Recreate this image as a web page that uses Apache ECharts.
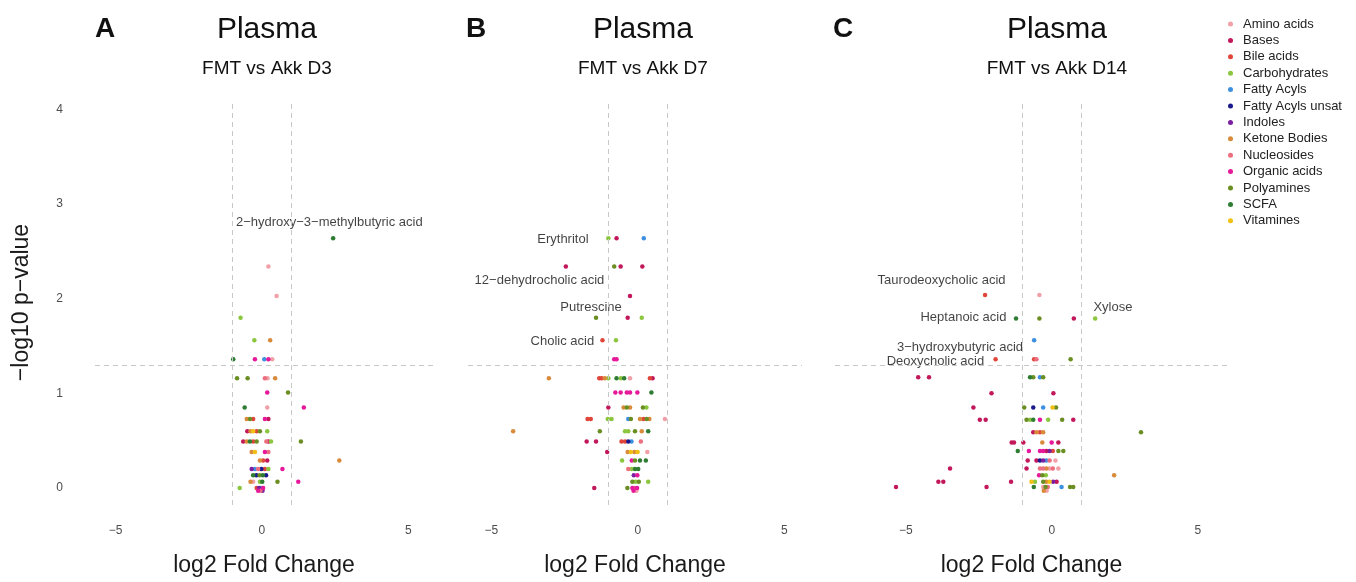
<!DOCTYPE html>
<html>
<head>
<meta charset="utf-8">
<title>Plasma volcano plots</title>
<script src="https://cdn.jsdelivr.net/npm/echarts@6/dist/echarts.min.js"></script>
<style>
  html, body { margin: 0; padding: 0; background: #fff; }
  #chart { width: 1356px; height: 582px; }
</style>
</head>
<body>
<div id="chart"></div>
<script>
// metabolite classes + colours (legend order)
const classes = [
  "Amino acids", "Bases", "Bile acids", "Carbohydrates", "Fatty Acyls",
  "Fatty Acyls unsat", "Indoles", "Ketone Bodies", "Nucleosides",
  "Organic acids", "Polyamines", "SCFA", "Vitamines",
];
const classColors = [
  "#f2a0a8", "#c2185b", "#e0453a", "#8cc63f", "#3d8fe0",
  "#1a1a8c", "#7b1fa2", "#d98a3a", "#ec6f7f",
  "#e6199b", "#6b8e23", "#2e7d32", "#f2c014",
];
const xTicks = [-5, 0, 5];
const yTicks = [0, 1, 2, 3, 4];
const fcCut = 1;        // |log2FC| = 1
const pCut = 1.301;     // -log10(0.05)

// D3: log2FC, -log10 p, class index
const d3FC = [
  2.43, 0.22, 0.50, -0.73, -0.26, 0.28,
  -0.98, -0.24, 0.08, 0.22, 0.35,
  -0.85, -0.49, 0.10, 0.19, 0.45,
  0.18, 0.89, -0.59, 0.18, 1.43,
  -0.52, -0.41, -0.30, 0.10, 0.22,
  -0.50, -0.39, -0.30, -0.18, -0.07, 0.18,
  -0.64, -0.52, -0.41, -0.30, -0.18, 0.15, 0.22, 0.31, 1.33,
  -0.35, -0.24, 0.10, 0.22,
  -0.07, 0.04, 0.18, 2.64,
  -0.35, -0.24, -0.13, -0.02, 0.10, 0.22, 0.70,
  -0.30, -0.19, -0.08, 0.03, 0.14,
  -0.39, -0.30, -0.07, 0.01, 0.53, 1.24,
  -0.76, -0.18, -0.10, -0.03, 0.04,
  -0.13, -0.05, 0.02,
];
const d3P = [
  2.64, 2.34, 2.03, 1.80, 1.56, 1.56,
  1.36, 1.36, 1.36, 1.36, 1.36,
  1.16, 1.16, 1.16, 1.16, 1.16,
  1.01, 1.01, 0.85, 0.85, 0.85,
  0.73, 0.73, 0.73, 0.73, 0.73,
  0.60, 0.60, 0.60, 0.60, 0.60, 0.60,
  0.49, 0.49, 0.49, 0.49, 0.49, 0.49, 0.49, 0.49, 0.49,
  0.38, 0.38, 0.38, 0.38,
  0.29, 0.29, 0.29, 0.29,
  0.20, 0.20, 0.20, 0.20, 0.20, 0.20, 0.20,
  0.135, 0.135, 0.135, 0.135, 0.135,
  0.066, 0.066, 0.066, 0.066, 0.066, 0.066,
  0.0, 0.0, 0.0, 0.0, 0.0,
  -0.03, -0.03, -0.03,
];
const d3Cls = [
  11, 0, 0, 3, 3, 7,
  11, 9, 4, 9, 0,
  10, 10, 8, 0, 7,
  9, 10, 11, 0, 9,
  7, 10, 2, 9, 1,
  1, 7, 12, 2, 10, 3,
  1, 7, 11, 2, 10, 8, 1, 3, 10,
  7, 12, 9, 8,
  7, 2, 1, 7,
  6, 4, 8, 5, 2, 3, 9,
  11, 5, 10, 11, 5,
  7, 0, 3, 11, 10, 9,
  3, 2, 6, 4, 9,
  9, 8, 6,
];
const d3Labels = ["2\u2212hydroxy\u22123\u2212methylbutyric acid"];
const d3LabelFC = [2.30];
const d3LabelP = [2.81];

// D7
const d7FC = [
  -1.01, -0.73, 0.20,
  -2.46, -0.81, -0.59, 0.15,
  -0.27,
  -1.43, -0.35, 0.13,
  -1.21, -0.75,
  -0.81, -0.73,
  -3.04, -1.32, -1.24, -1.13, -1.01, -0.73, -0.58, -0.47, -0.27, 0.41, 0.50,
  -0.77, -0.59, -0.38, -0.27, -0.02, 0.46,
  -1.01, -0.49, -0.38, -0.27, 0.17, 0.29,
  -1.72, -1.61, -1.03, -0.90, -0.33, -0.24, 0.07, 0.19, 0.30, 0.39, 0.92,
  -4.26, -1.30, -0.44, -0.33, -0.10, 0.13, 0.35,
  -1.75, -1.43, -0.56, -0.44, -0.33, -0.22, 0.10,
  -1.05, -0.35, -0.24, -0.12, -0.01, 0.32,
  -0.54, -0.21, -0.10, 0.07, 0.27,
  -0.33, -0.21, -0.10, 0.01,
  -0.14, -0.02,
  -0.19, -0.08, 0.03, 0.35,
  -1.49, -0.36, -0.19, -0.11, -0.03,
  -0.15, -0.05,
];
const d7P = [
  2.64, 2.64, 2.64,
  2.34, 2.34, 2.34, 2.34,
  2.03,
  1.80, 1.80, 1.80,
  1.56, 1.56,
  1.36, 1.36,
  1.16, 1.16, 1.16, 1.16, 1.16, 1.16, 1.16, 1.16, 1.16, 1.16, 1.16,
  1.01, 1.01, 1.01, 1.01, 1.01, 1.01,
  0.85, 0.85, 0.85, 0.85, 0.85, 0.85,
  0.73, 0.73, 0.73, 0.73, 0.73, 0.73, 0.73, 0.73, 0.73, 0.73, 0.73,
  0.60, 0.60, 0.60, 0.60, 0.60, 0.60, 0.60,
  0.49, 0.49, 0.49, 0.49, 0.49, 0.49, 0.49,
  0.38, 0.38, 0.38, 0.38, 0.38, 0.38,
  0.29, 0.29, 0.29, 0.29, 0.29,
  0.20, 0.20, 0.20, 0.20,
  0.135, 0.135,
  0.066, 0.066, 0.066, 0.066,
  0.0, 0.0, 0.0, 0.0, 0.0,
  -0.03, -0.03,
];
const d7Cls = [
  3, 1, 4,
  1, 10, 1, 1,
  1,
  10, 1, 3,
  2, 3,
  9, 9,
  7, 2, 2, 7, 3, 11, 3, 11, 0, 2, 1,
  9, 9, 9, 9, 9, 11,
  1, 7, 10, 7, 10, 3,
  2, 2, 3, 3, 4, 10, 7, 2, 10, 7, 0,
  7, 10, 3, 3, 10, 7, 11,
  1, 1, 2, 2, 5, 4, 8,
  1, 7, 12, 7, 12, 0,
  3, 9, 10, 11, 11,
  8, 3, 11, 11,
  6, 9,
  10, 3, 10, 3,
  1, 10, 9, 8, 9,
  9, 0,
];
const d7Labels = ["Erythritol", "12\u2212dehydrocholic acid", "Putrescine", "Cholic acid"];
const d7LabelFC = [-2.56, -3.36, -1.60, -2.58];
const d7LabelP = [2.625, 2.19, 1.91, 1.55];

// D14
const d14FC = [
  -2.29, -0.43,
  -1.23, -0.43, 0.75, 1.48,
  -0.61,
  -1.93, -0.61, -0.53, 0.64,
  -4.58, -4.21, -0.75, -0.64, -0.41, -0.30,
  -2.07, 0.05,
  -2.69, -0.95, -0.64, -0.30, 0.02, 0.14,
  -2.47, -2.27, -0.87, -0.75, -0.64, -0.41, -0.13, 0.35, 0.73,
  -0.64, -0.53, -0.41, -0.30, 3.05,
  -1.38, -1.30, -0.98, -0.33, -0.01, 0.22,
  -1.17, -0.79, -0.41, -0.30, -0.19, -0.08, 0.03, 0.22, 0.39,
  -0.83, -0.53, -0.41, -0.30, -0.19, -0.08, 0.12,
  -3.49, -0.87, -0.41, -0.30, -0.19, -0.08, 0.03, 0.22,
  -0.44, -0.33, -0.21, 2.13,
  -3.89, -3.72, -1.40, -0.70, -0.58, -0.30, -0.19, -0.08, 0.04, 0.16,
  -5.34, -2.24, -0.62, -0.30, -0.22, -0.14, 0.33, 0.62, 0.73,
  -0.28, -0.18,
];
const d14P = [
  2.04, 2.04,
  1.79, 1.79, 1.79, 1.79,
  1.56,
  1.36, 1.36, 1.36, 1.36,
  1.17, 1.17, 1.17, 1.17, 1.17, 1.17,
  1.00, 1.00,
  0.85, 0.85, 0.85, 0.85, 0.85, 0.85,
  0.72, 0.72, 0.72, 0.72, 0.72, 0.72, 0.72, 0.72, 0.72,
  0.59, 0.59, 0.59, 0.59, 0.59,
  0.48, 0.48, 0.48, 0.48, 0.48, 0.48,
  0.39, 0.39, 0.39, 0.39, 0.39, 0.39, 0.39, 0.39, 0.39,
  0.29, 0.29, 0.29, 0.29, 0.29, 0.29, 0.29,
  0.205, 0.205, 0.205, 0.205, 0.205, 0.205, 0.205, 0.205,
  0.135, 0.135, 0.135, 0.135,
  0.066, 0.066, 0.066, 0.066, 0.066, 0.066, 0.066, 0.066, 0.066, 0.066,
  0.01, 0.01, 0.01, 0.01, 0.01, 0.01, 0.01, 0.01, 0.01,
  -0.03, -0.03,
];
const d14Cls = [
  2, 0,
  11, 10, 1, 3,
  4,
  2, 2, 8, 10,
  1, 1, 11, 10, 4, 10,
  1, 1,
  1, 10, 5, 4, 12, 10,
  1, 1, 10, 3, 11, 9, 3, 10, 1,
  1, 7, 2, 7, 10,
  1, 1, 1, 7, 9, 1,
  11, 9, 9, 9, 1, 6, 2, 10, 10,
  1, 1, 5, 6, 4, 8, 0,
  1, 1, 8, 8, 7, 0, 8, 0,
  9, 10, 3, 7,
  1, 1, 1, 12, 3, 10, 7, 12, 6, 1,
  1, 1, 11, 0, 10, 8, 4, 10, 10,
  7, 0,
];
const d14Labels = ["Taurodeoxycholic acid", "Xylose", "Heptanoic acid", "3\u2212hydroxybutyric acid", "Deoxycholic acid"];
const d14LabelFC = [-3.78, 2.09, -3.03, -3.15, -3.99];
const d14LabelP = [2.19, 1.91, 1.80, 1.49, 1.34];

const panels = [
  { letter: "A", letterX: 90, sub: "FMT vs Akk D3", fc: d3FC, p: d3P, cls: d3Cls,
    labels: d3Labels, labelFC: d3LabelFC, labelP: d3LabelP,
    xMin: -5.7, xMax: 5.84, left: 95, width: 338 },
  { letter: "B", letterX: 461, sub: "FMT vs Akk D7", fc: d7FC, p: d7P, cls: d7Cls,
    labels: d7Labels, labelFC: d7LabelFC, labelP: d7LabelP,
    xMin: -5.8, xMax: 5.6, left: 468, width: 334 },
  { letter: "C", letterX: 828, sub: "FMT vs Akk D14", fc: d14FC, p: d14P, cls: d14Cls,
    labels: d14Labels, labelFC: d14LabelFC, labelP: d14LabelP,
    xMin: -7.43, xMax: 6.03, left: 835, width: 393 },
];

const font = "'Liberation Sans', Arial, sans-serif";
const minusFmt = (v) => (v < 0 ? "\u2212" + Math.abs(v) : String(v));

const grids = [], xAxes = [], yAxes = [], series = [], titles = [];

panels.forEach((pn, i) => {
  const zeroPx = pn.left + pn.width * (-pn.xMin) / (pn.xMax - pn.xMin);
  titles.push(
    { text: pn.letter, left: pn.letterX, top: 10,
      textStyle: { fontFamily: font, fontSize: 28, fontWeight: "bold", color: "#111" } },
    { text: "Plasma", left: zeroPx, top: 10, textAlign: "center",
      textStyle: { fontFamily: font, fontSize: 30, fontWeight: "normal", color: "#111" } },
    { text: pn.sub, left: zeroPx, top: 54, textAlign: "center",
      textStyle: { fontFamily: font, fontSize: 19, fontWeight: "normal", color: "#111" } }
  );
  grids.push({ left: pn.left, top: 100, width: pn.width, height: 409 });
  xAxes.push({
    gridIndex: i, type: "value", min: pn.xMin, max: pn.xMax,
    name: "log2 Fold Change", nameLocation: "middle", nameGap: 49,
    nameTextStyle: { fontFamily: font, fontSize: 23, color: "#1a1a1a" },
    axisLine: { show: false }, axisTick: { show: false }, splitLine: { show: false },
    axisLabel: { customValues: xTicks, formatter: minusFmt, fontFamily: font,
      fontSize: 12, color: "#4d4d4d", margin: 20 },
  });
  yAxes.push({
    gridIndex: i, type: "value", min: -0.18, max: 4.1,
    name: i === 0 ? "\u2212log10 p\u2212value" : "", nameLocation: "middle", nameGap: 62,
    nameTextStyle: { fontFamily: font, fontSize: 23, color: "#1a1a1a" },
    axisLine: { show: false }, axisTick: { show: false }, splitLine: { show: false },
    axisLabel: { show: i === 0, customValues: yTicks, fontFamily: font,
      fontSize: 12, color: "#4d4d4d", margin: 32 },
  });

  classes.forEach((c, k) => {
    const pts = [];
    pn.fc.forEach((x, j) => {
      if (pn.cls[j] === k) pts.push([x, pn.p[j]]);
    });
    series.push({
      name: c, type: "scatter", xAxisIndex: i, yAxisIndex: i,
      symbolSize: 4.5, itemStyle: { color: classColors[k], opacity: 1 },
      data: pts, silent: true,
    });
  });

  // text labels + threshold lines
  series.push({
    type: "scatter", xAxisIndex: i, yAxisIndex: i, symbolSize: 0, silent: true,
    data: pn.labels.map((t, j) => ({ name: t, value: [pn.labelFC[j], pn.labelP[j]] })),
    label: { show: true, position: "inside", formatter: (p) => p.name,
      fontFamily: font, fontSize: 13, color: "#111" },
    markLine: {
      silent: true, symbol: "none", label: { show: false },
      lineStyle: { color: "#c8c8c8", type: [5, 4], width: 1 },
      data: [{ xAxis: -fcCut }, { xAxis: fcCut }, { yAxis: pCut }],
    },
  });
});

const chart = echarts.init(document.getElementById("chart"));
chart.setOption({
  animation: false,
  backgroundColor: "#fff",
  title: titles,
  legend: {
    data: classes, orient: "vertical", left: 1223, top: 12,
    icon: "circle", itemWidth: 5, itemHeight: 5, itemGap: 2.4,
    selectedMode: false,
    textStyle: { fontFamily: font, fontSize: 13, color: "#222", padding: [0, 0, 0, 5], lineHeight: 14 },
  },
  grid: grids,
  xAxis: xAxes,
  yAxis: yAxes,
  series: series,
});
window.addEventListener("resize", () => chart.resize());
</script>
</body>
</html>
